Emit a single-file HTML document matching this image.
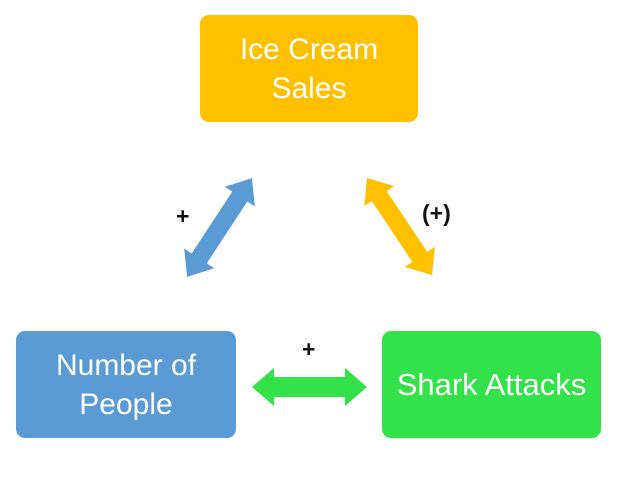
<!DOCTYPE html>
<html><head><style>
html,body{margin:0;padding:0;background:#fff;}
body{width:641px;height:483px;position:relative;overflow:hidden;font-family:"Liberation Sans",sans-serif;}
.box{position:absolute;border-radius:9px;color:#fff;font-size:30px;line-height:39px;text-align:center;display:flex;align-items:center;justify-content:center;}
.lbl{position:absolute;font-weight:bold;font-size:23px;color:#111;}
</style></head><body>
<div class="box" style="left:200px;top:15px;width:218px;height:107px;background:#FFC000;">Ice Cream<br>Sales</div>
<div class="box" style="left:16px;top:331px;width:220px;height:107px;background:#5B9BD5;">Number of<br>People</div>
<div class="box" style="left:382px;top:331px;width:219px;height:107px;background:#33E24A;font-size:31px;">Shark Attacks</div>
<svg width="641" height="483" style="position:absolute;left:0;top:0">
<polygon transform="translate(219.5,227.5) rotate(-56.7)" fill="#5B9BD5" points="-59,0 -37,-18 -37,-9 37,-9 37,-18 59,0 37,18 37,9 -37,9 -37,18"/>
<polygon transform="translate(399.5,226.5) rotate(56.2)" fill="#FFC000" points="-58.5,0 -36.5,-18 -36.5,-9 36.5,-9 36.5,-18 58.5,0 36.5,18 36.5,9 -36.5,9 -36.5,18"/>
<polygon transform="translate(309.5,387)" fill="#33E24A" points="-57.5,0 -35.5,-19 -35.5,-10 35.5,-10 35.5,-19 57.5,0 35.5,19 35.5,10 -35.5,10 -35.5,19"/>
</svg>
<div class="lbl" style="left:176px;top:203px;">+</div>
<div class="lbl" style="left:422px;top:200px;">(+)</div>
<div class="lbl" style="left:302px;top:336px;">+</div>
</body></html>
